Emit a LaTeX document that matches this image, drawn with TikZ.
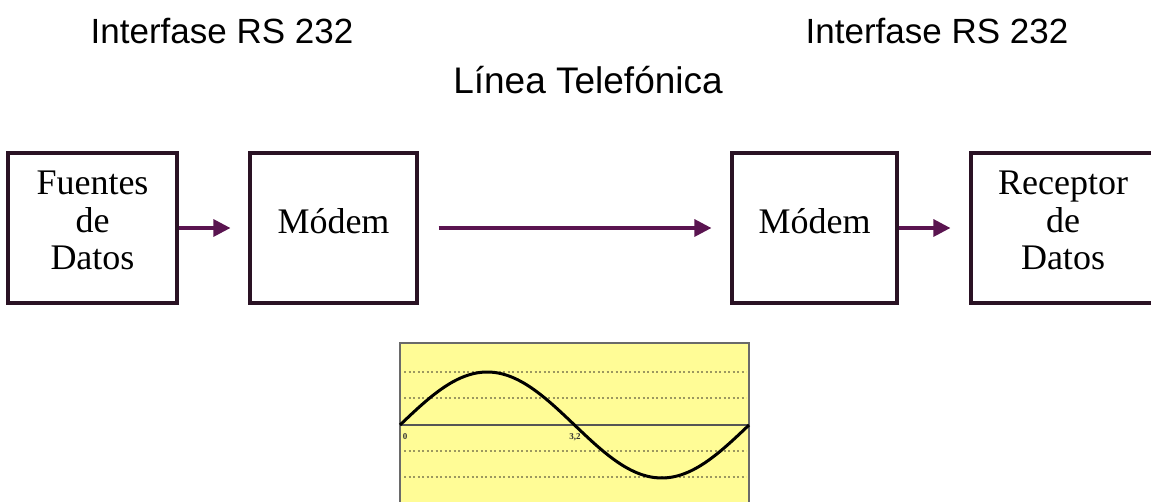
\documentclass[tikz,border=0pt]{standalone}
\usepackage{fontspec}
\setmainfont{Liberation Serif}
\newfontfamily\headfont{Liberation Sans}
\usetikzlibrary{arrows.meta}
\definecolor{boxline}{HTML}{2A1224}
\definecolor{arrowcol}{HTML}{5A1450}
\definecolor{plotfill}{HTML}{FFFC96}
\definecolor{gridcol}{HTML}{9C9860}
\definecolor{framecol}{HTML}{6A6A6A}
\begin{document}
\begin{tikzpicture}[x=1pt,y=-1pt,
  blockbox/.style={draw=boxline,line width=3.2pt,minimum height=150pt,
    align=center,inner sep=0pt,text depth=15pt,font=\fontsize{36}{37.5}\selectfont},
  flow/.style={draw=arrowcol,line width=3.2pt,-{Triangle[length=17pt,width=17pt]}},
  heading/.style={font=\headfont\fontsize{35}{40}\selectfont,inner sep=0pt},
  gridline/.style={draw=gridcol,line width=1.2pt,dash pattern=on 2pt off 2.5pt}]
\useasboundingbox (0,0) rectangle (1151,502);

% titles
\node[heading] (ifl) at (222,31) {Interfase RS 232};
\node[heading] (ifr) at (937,31) {Interfase RS 232};
\node[heading,font=\headfont\fontsize{37}{40}\selectfont] (line) at (588,80) {Línea Telefónica};

% blocks
\node[blockbox,minimum width=169pt] (src) at (92.5,228) {Fuentes\\de\\Datos};
\node[blockbox,minimum width=167pt] (mod1) at (333.5,228) {Módem};
\node[blockbox,minimum width=165pt] (mod2) at (814.5,228) {Módem};
\node[blockbox,minimum width=184pt] (dst) at (1063,228) {Receptor\\de\\Datos};

% connectors
\draw[flow,shorten >=18pt] (src.east) -- (mod1.west);
\draw[flow,shorten <=20pt,shorten >=19pt] (mod1.east) -- (mod2.west);
\draw[flow,shorten >=19pt] (mod2.east) -- (dst.west);

% line signal plot
\fill[plotfill] (400,343) rectangle (749,506);
\foreach \yy in {372,398,451,477}
  \draw[gridline] (404,\yy) -- (746,\yy);
\draw[framecol,line width=2pt] (400,506) -- (400,343) -- (749,343) -- (749,506);
\draw[framecol!80!black,line width=1.4pt] (400,425) -- (749,425);
\draw[black,line width=3pt,line join=round]
  plot[domain=0:360,samples=120] ({400+0.969444*\x},{425-53*sin(\x)});
\node[font=\bfseries\fontsize{9}{10}\selectfont,text=black!80,inner sep=0pt] (zero) at (405,437) {0};
\node[font=\bfseries\fontsize{9}{10}\selectfont,text=black!80,inner sep=0pt] (half) at (575,437) {3,2};
\end{tikzpicture}
\end{document}
